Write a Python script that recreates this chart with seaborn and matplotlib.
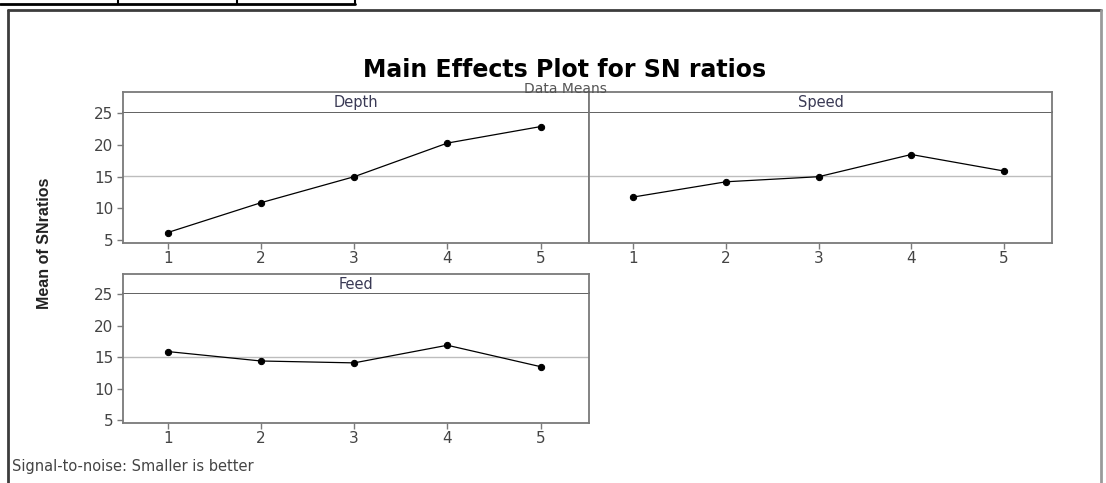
import matplotlib
matplotlib.use('Agg')
import matplotlib.pyplot as plt
from matplotlib.lines import Line2D
import numpy as np
import pandas as pd
import seaborn as sns

sns.set_style('white')
plt.rcParams['font.family'] = ['DejaVu Sans']

# main effects (mean of SN ratios per level)
levels = [1, 2, 3, 4, 5]
depth = [6.2, 10.9, 15.0, 20.3, 22.9]
speed = [11.8, 14.2, 15.0, 18.5, 15.9]
feed = [15.9, 14.4, 14.1, 16.9, 13.5]
factors = ['Depth', 'Speed', 'Feed']
yticks = [5, 10, 15, 20, 25]

df = pd.DataFrame({
    'factor': np.repeat(factors, len(levels)),
    'level': levels * 3,
    'sn': depth + speed + feed,
})
grand_mean = df['sn'].mean()

W, H = 1106, 483
fig = plt.figure(figsize=(W / 100, H / 100), dpi=100)

def px(x0, y0, x1, y1):
    # pixel box (top-left origin) -> figure fraction rect
    return [x0 / W, 1 - y1 / H, (x1 - x0) / W, (y1 - y0) / H]

# panel boxes: (data area, strip)
boxes = {
    'Depth': (px(123, 112, 589, 243), px(123, 92, 589, 112)),
    'Speed': (px(589, 112, 1052, 243), px(589, 92, 1052, 112)),
    'Feed': (px(123, 293, 589, 423), px(123, 274, 589, 293)),
}
spine_col = '#7a7a7a'
tick_col = '#444444'

for f in factors:
    rect, srect = boxes[f]
    ax = fig.add_axes(rect)
    ax.axhline(grand_mean, color='#bdbdbd', lw=1, zorder=1)
    sns.lineplot(data=df[df.factor == f], x='level', y='sn', ax=ax,
                 color='black', lw=0.9, marker='o', markersize=4.5,
                 markeredgecolor='black', zorder=3)
    ax.set_xlim(0.52, 5.52)
    ax.set_ylim(4.55, 25.2)
    ax.set_xticks(levels)
    ax.set_yticks(yticks)
    ax.set_xlabel('')
    ax.set_ylabel('')
    for s in ax.spines.values():
        s.set_color(spine_col)
        s.set_linewidth(1.3)
    ax.spines['top'].set_color('#555555')
    ax.tick_params(axis='both', colors=spine_col, labelcolor=tick_col,
                   labelsize=11, length=4, width=1, direction='out')
    ax.tick_params(axis='x', bottom=True, pad=2)
    if f == 'Speed':
        ax.tick_params(axis='y', left=False, labelleft=False)
    else:
        ax.tick_params(axis='y', left=True, pad=3)

    sax = fig.add_axes(srect)
    sax.set_xticks([])
    sax.set_yticks([])
    for s in sax.spines.values():
        s.set_color(spine_col)
        s.set_linewidth(1.3)
    sax.spines['bottom'].set_visible(False)
    sax.text(0.5, 0.45, f, ha='center', va='center', fontsize=10.5,
             color='#3a3a55', transform=sax.transAxes)

fig.text(565 / W, 1 - 70 / H, 'Main Effects Plot for SN ratios',
         ha='center', va='center', fontsize=17, fontweight='bold', color='black')
fig.text(565 / W, 1 - 89 / H, 'Data Means', ha='center', va='center',
         fontsize=10, color='#555555')
fig.text(45 / W, 1 - 243 / H, 'Mean of SNratios', rotation=90,
         ha='center', va='center', fontsize=11.5, fontweight='bold',
         family=['Liberation Sans', 'DejaVu Sans'], color='#222222')
fig.text(12 / W, 1 - 467 / H, 'Signal-to-noise: Smaller is better',
         ha='left', va='center', fontsize=10.5, color='#444444')

# outer frame of the exported graph
def fline(xs, ys, **kw):
    fig.add_artist(Line2D([x / W for x in xs], [1 - y / H for y in ys],
                          transform=fig.transFigure, **kw))

fline([7.5, 7.5], [10, 483], color='#3c3c3c', lw=2)
fline([7.5, 1101], [10, 10], color='#3c3c3c', lw=2)
fline([1101, 1101], [10, 483], color='#9a9a9a', lw=2)
# table border left over above the graph
fline([0, 355], [3.5, 3.5], color='black', lw=2)
for x in [118, 237, 355]:
    fline([x, x], [0, 3.5], color='black', lw=1.5)

fig.savefig('out.png', dpi=100)
